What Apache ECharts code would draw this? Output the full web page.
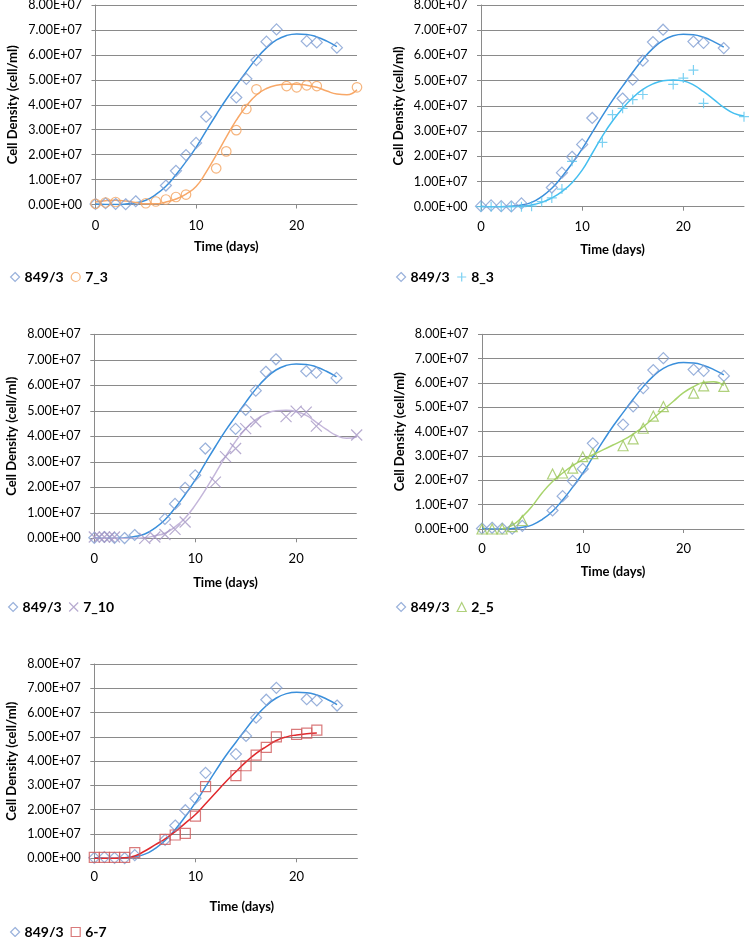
<!DOCTYPE html>
<html>
<head>
<meta charset="utf-8">
<script src="https://cdn.jsdelivr.net/npm/echarts@6/dist/echarts.min.js"></script>
<style>
html,body{margin:0;padding:0;background:#fff;}
#chart{width:752px;height:937px;}
</style>
</head>
<body>
<div id="chart"></div>
<script>
// ---------------- DATA ----------------
const xTicks = [0, 10, 20];
const yTicks = [0, 1e7, 2e7, 3e7, 4e7, 5e7, 6e7, 7e7, 8e7];

// reference strain 849/3 (shown in every panel)
const days849 = [0,1,2,3,4,7,8,9,10,11,14,15,16,17,18,21,22,24];
const vals849 = [0.02e7,0.05e7,0.02e7,0.01e7,0.13e7,0.76e7,1.35e7,1.98e7,2.47e7,3.52e7,4.29e7,5.04e7,5.79e7,6.53e7,7.02e7,6.55e7,6.5e7,6.29e7];
const trendDays849 = [0,1,2,3,4,5,6,7,8,9,10,11,12,13,14,15,16,17,18,19,20,21,22,23,24];
const trendVals849 = [0.02e7,0,0,0.02e7,0.07e7,0.17e7,0.4e7,0.73e7,1.19e7,1.72e7,2.29e7,2.95e7,3.6e7,4.22e7,4.78e7,5.33e7,5.85e7,6.28e7,6.6e7,6.78e7,6.84e7,6.82e7,6.72e7,6.55e7,6.33e7];

// 7_3
const days7_3 = [0,1,2,5,6,7,8,9,12,13,14,15,16,19,20,21,22,26];
const vals7_3 = [0.03e7,0.08e7,0.1e7,0.05e7,0.12e7,0.2e7,0.3e7,0.4e7,1.45e7,2.13e7,2.98e7,3.83e7,4.62e7,4.75e7,4.7e7,4.78e7,4.75e7,4.7e7];
const trendDays7_3 = [0,1,2,3,4,5,6,7,8,9,10,11,12,13,14,15,16,17,18,19,20,21,22,23,24,25,26];
const trendVals7_3 = [0.1e7,0.15e7,0.17e7,0.14e7,0.08e7,0.03e7,0.03e7,0.1e7,0.22e7,0.42e7,0.72e7,1.3e7,1.98e7,2.7e7,3.38e7,3.95e7,4.39e7,4.65e7,4.78e7,4.82e7,4.82e7,4.78e7,4.7e7,4.55e7,4.43e7,4.4e7,4.6e7];

// 8_3
const days8_3 = [0,1,2,3,4,5,6,7,8,9,12,13,14,15,16,19,20,21,22,26];
const vals8_3 = [0,0,0,0,0,0.02e7,0.2e7,0.35e7,0.7e7,1.8e7,2.55e7,3.65e7,3.9e7,4.25e7,4.45e7,4.85e7,5.1e7,5.42e7,4.1e7,3.57e7];
const trendDays8_3 = [0,1,2,3,4,5,6,7,8,9,10,11,12,13,14,15,16,17,18,19,20,21,22,23,24,25,26];
const trendVals8_3 = [0,0,0,0,0.02e7,0.07e7,0.17e7,0.35e7,0.6e7,0.95e7,1.45e7,2.12e7,2.8e7,3.4e7,3.9e7,4.32e7,4.65e7,4.87e7,5.0e7,5.03e7,4.99e7,4.83e7,4.56e7,4.26e7,3.94e7,3.7e7,3.6e7];

// 7_10
const days7_10 = [0,0.5,1,1.5,2,5,6,7,8,9,12,13,14,15,16,19,20,21,22,26];
const vals7_10 = [0.05e7,0.05e7,0.05e7,0.05e7,0.05e7,0,0.05e7,0.15e7,0.35e7,0.64e7,2.2e7,3.2e7,3.52e7,4.3e7,4.57e7,4.77e7,4.99e7,4.95e7,4.4e7,4.05e7];
const trendDays7_10 = [0,1,2,3,4,5,6,7,8,9,10,11,12,13,14,15,16,17,18,19,20,21,22,23,24,25,26];
const trendVals7_10 = [0,0,0,0,0,0.02e7,0.1e7,0.2e7,0.45e7,0.8e7,1.3e7,1.9e7,2.55e7,3.2e7,3.8e7,4.3e7,4.65e7,4.88e7,5.0e7,5.02e7,4.97e7,4.82e7,4.55e7,4.27e7,4.03e7,3.92e7,3.97e7];

// 2_5
const days2_5 = [0,1,2,3,4,7,8,9,10,11,14,15,16,17,18,21,22,24];
const vals2_5 = [0,0,0,0.1e7,0.35e7,2.26e7,2.3e7,2.5e7,2.97e7,3.1e7,3.42e7,3.7e7,4.14e7,4.64e7,5.03e7,5.58e7,5.88e7,5.86e7];
const trendDays2_5 = [2,3,4,5,6,7,8,9,10,11,12,13,14,15,16,17,18,19,20,21,22,23,24];
const trendVals2_5 = [0,0.15e7,0.5e7,0.95e7,1.5e7,1.95e7,2.3e7,2.6e7,2.85e7,3.05e7,3.25e7,3.45e7,3.65e7,3.9e7,4.2e7,4.55e7,4.9e7,5.25e7,5.6e7,5.85e7,6.02e7,6.05e7,5.9e7];

// 6-7
const days6_7 = [0,1,2,3,4,7,8,9,10,11,14,15,16,17,18,20,21,22];
const vals6_7 = [0.04e7,0.04e7,0.04e7,0.04e7,0.23e7,0.78e7,0.96e7,1.03e7,1.74e7,2.95e7,3.4e7,3.81e7,4.25e7,4.57e7,5.0e7,5.1e7,5.15e7,5.28e7];
const trendDays6_7 = [0,1,2,3,4,5,6,7,8,9,10,11,12,13,14,15,16,17,18,19,20,21,22];
const trendVals6_7 = [0,0,0,0.02e7,0.1e7,0.3e7,0.55e7,0.8e7,1.1e7,1.45e7,1.8e7,2.25e7,2.7e7,3.15e7,3.57e7,3.97e7,4.32e7,4.6e7,4.85e7,5.0e7,5.08e7,5.13e7,5.16e7];

const refName = '849/3';
const panelNames = ['7_3', '8_3', '7_10', '2_5', '6-7'];
const panelDays = [days7_3, days8_3, days7_10, days2_5, days6_7];
const panelVals = [vals7_3, vals8_3, vals7_10, vals2_5, vals6_7];
const panelTrendDays = [trendDays7_3, trendDays8_3, trendDays7_10, trendDays2_5, trendDays6_7];
const panelTrendVals = [trendVals7_3, trendVals8_3, trendVals7_10, trendVals2_5, trendVals6_7];

// ---------------- LAYOUT / STYLE ----------------
const layout = [
  {left:95.5, top:5,     w:261.5, h:199.5, xLabMargin:14.5, xNameGap:35.5, legLeft:5,   legTop:265, namePad:0},
  {left:481,  top:5,     w:263,   h:201.7, xLabMargin:13.8, xNameGap:37,   legLeft:391, legTop:265, namePad:0},
  {left:94.3, top:334.3, w:262.4, h:204,   xLabMargin:14.2, xNameGap:38,   legLeft:3,   legTop:595, namePad:0},
  {left:482,  top:334.3, w:262,   h:194.7, xLabMargin:13.5, xNameGap:36.5, legLeft:391, legTop:595, namePad:0},
  {left:94.3, top:664,   w:263,   h:194.3, xLabMargin:12.2, xNameGap:42,   legLeft:5,   legTop:920, namePad:32}
];
const styles = [
  {symbol:'circle', size:9.5, color:'#F4A25E', line:'#F8A868'},
  {symbol:'path://M5 0 L5 10 M0 5 L10 5', size:10, color:'#5CC6EF', line:'#45BFF0'},
  {symbol:'path://M0 0 L10 10 M10 0 L0 10', size:11, color:'#A596C4', line:'#C4B6DA'},
  {symbol:'triangle', size:10, color:'#9BC45A', line:'#A8D46C'},
  {symbol:'rect', size:10, color:'#D0595A', line:'#E0282C'}
];
const refStyle = {symbol:'diamond', size:11, color:'#7F9ED2', line:'#3A8FDB'};
const gray = '#8A8A8A';
const FONT = 'Lato, "Open Sans", "Liberation Sans", sans-serif';

function sci(v){
  if (v === 0) return '0.00E+00';
  const e = Math.floor(Math.log10(v) + 1e-9);
  const m = v / Math.pow(10, e);
  return m.toFixed(2) + 'E+' + String(e).padStart(2, '0');
}
function pairs(xs, ys){ return xs.map((x, i) => [x, ys[i]]); }

const grids = [], xAxes = [], yAxes = [], series = [], legends = [];
layout.forEach((L, i) => {
  grids.push({left:L.left, top:L.top, width:L.w, height:L.h, containLabel:false, outerBoundsMode:'none'});
  xAxes.push({
    type:'value', gridIndex:i, min:0, max:26, interval:10,
    name:'Time (days)', nameLocation:'middle', nameGap:L.xNameGap,
    nameTextStyle:{fontFamily:FONT, fontWeight:'bold', fontSize:13, color:'#000', padding:[0,0,0,L.namePad]},
    axisLine:{show:true, lineStyle:{color:gray, width:1}},
    axisTick:{show:true, length:4, lineStyle:{color:gray}, customValues:xTicks},
    axisLabel:{fontFamily:FONT, fontSize:13, color:'#000', margin:L.xLabMargin, customValues:xTicks,
      formatter: v => (xTicks.indexOf(v) >= 0 ? String(v) : '')},
    splitLine:{show:false}
  });
  yAxes.push({
    type:'value', gridIndex:i, min:0, max:8e7, interval:1e7,
    name:'Cell Density (cell/ml)', nameLocation:'middle', nameGap:76,
    nameTextStyle:{fontFamily:FONT, fontWeight:'bold', fontSize:13, color:'#000'},
    axisLine:{show:true, lineStyle:{color:gray, width:1}},
    axisTick:{show:true, length:4, lineStyle:{color:gray}},
    axisLabel:{fontFamily:FONT, fontSize:12.5, color:'#000', margin:13.5, formatter: sci},
    splitLine:{show:true, lineStyle:{color:gray, width:1}}
  });
  const S = styles[i];
  series.push({
    type:'line', name:'trend-' + refName + '-' + i, xAxisIndex:i, yAxisIndex:i,
    data:pairs(trendDays849, trendVals849), smooth:0.5, showSymbol:false, symbol:'none',
    lineStyle:{color:refStyle.line, width:1.5}, z:2, silent:true
  });
  series.push({
    type:'line', name:'trend-' + panelNames[i], xAxisIndex:i, yAxisIndex:i,
    data:pairs(panelTrendDays[i], panelTrendVals[i]), smooth:0.5, showSymbol:false, symbol:'none',
    lineStyle:{color:S.line, width:1.5}, z:2, silent:true
  });
  series.push({
    type:'scatter', name:refName, xAxisIndex:i, yAxisIndex:i,
    data:pairs(days849, vals849), symbol:refStyle.symbol, symbolSize:refStyle.size,
    itemStyle:{color:'rgba(0,0,0,0)', borderColor:refStyle.color, borderWidth:1.2}, z:3
  });
  series.push({
    type:'scatter', name:panelNames[i], xAxisIndex:i, yAxisIndex:i,
    data:pairs(panelDays[i], panelVals[i]), symbol:S.symbol, symbolSize:S.size,
    itemStyle:{color:'rgba(0,0,0,0)', borderColor:S.color, borderWidth:1.2}, z:4
  });
  legends.push({
    data:[refName, panelNames[i]], left:L.legLeft, top:L.legTop, orient:'horizontal',
    itemWidth:9, itemHeight:9, itemGap:7, selectedMode:false,
    itemStyle:{borderWidth:1.2},
    textStyle:{fontFamily:FONT, fontWeight:'bold', fontSize:14, color:'#000'}
  });
});

const chart = echarts.init(document.getElementById('chart'), null, {renderer:'canvas'});
chart.setOption({
  animation:false,
  backgroundColor:'#fff',
  grid:grids, xAxis:xAxes, yAxis:yAxes, series:series, legend:legends
});
</script>
</body>
</html>
